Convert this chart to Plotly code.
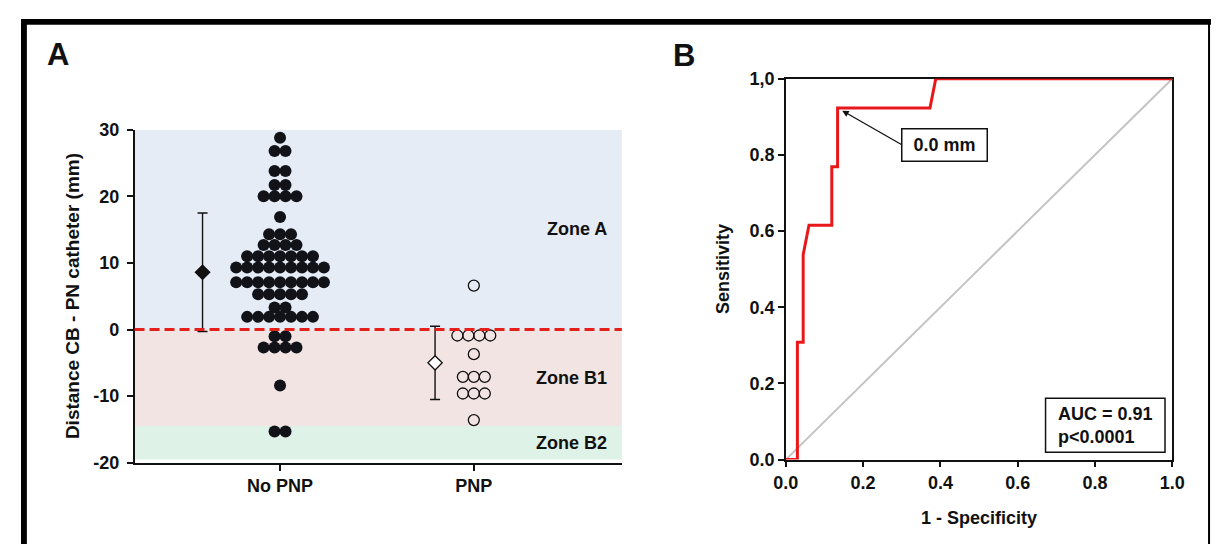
import plotly.graph_objects as go

# page body adds an 8px margin: the figure is sized/positioned in screen pixels minus 8
OFF = 8
W, H = 1224 - OFF, 544 - OFF

# ---------------- data ----------------
groups = ["No PNP", "PNP"]
group_pos = [1, 2]

no_pnp_mm = [28.8,
             26.8, 26.8,
             23.8, 23.8,
             21.7, 21.7,
             20.0, 20.0, 20.0, 20.0,
             16.9,
             14.3, 14.3, 14.3,
             12.7, 12.7, 12.7, 12.7,
             11.0, 11.0, 11.0, 11.0, 11.0, 11.0, 11.0,
             9.3, 9.3, 9.3, 9.3, 9.3, 9.3, 9.3, 9.3, 9.3,
             7.1, 7.1, 7.1, 7.1, 7.1, 7.1, 7.1, 7.1, 7.1,
             5.3, 5.3, 5.3, 5.3, 5.3,
             3.3, 3.3,
             1.9, 1.9, 1.9, 1.9, 1.9, 1.9, 1.9,
             -1.0, -1.0,
             -2.7, -2.7, -2.7, -2.7,
             -8.4,
             -15.3, -15.3]
pnp_mm = [6.6,
          -0.9, -0.9, -0.9, -0.9,
          -3.7,
          -7.1, -7.1, -7.1,
          -9.6, -9.6, -9.6,
          -13.6]
group_mean = [8.6, -5.0]
group_sd = [8.9, 5.5]

zone_names = ["Zone A", "Zone B1", "Zone B2"]
zone_low = [0.0, -14.5, -19.5]
zone_high = [30.0, 0.0, -14.5]
zone_label_y = [15.1, -7.3, -17.1]
cutoff_mm = 0.0

roc_fpr = [0.0, 0.030, 0.030, 0.045, 0.045, 0.060, 0.119, 0.119, 0.134, 0.134, 0.373, 0.388, 1.0]
roc_tpr = [0.0, 0.0, 0.308, 0.308, 0.538, 0.615, 0.615, 0.769, 0.769, 0.923, 0.923, 1.0, 1.0]
cut_point = (0.134, 0.923)
cut_label = "0.0 mm"
auc_lines = ["AUC = 0.91", "p&lt;0.0001"]

ticks_left_y = [-20, -10, 0, 10, 20, 30]
ticks_left_y_text = ["-20", "-10", "0", "10", "20", "30"]
ticks_roc = [0.0, 0.2, 0.4, 0.6, 0.8, 1.0]
ticks_roc_y_text = ["0.0", "0.2", "0.4", "0.6", "0.8", "1,0"]
ticks_roc_x_text = ["0.0", "0.2", "0.4", "0.6", "0.8", "1.0"]

# ---------------- style ----------------
FONT = "Liberation Sans, Arial, sans-serif"
DOT_STEP = 0.0566
SUMMARY_OFFSET = [-0.40, -0.20]
zone_colors = ["#E6ECF6", "#F3E4E4", "#DFF2E7"]


def px_x(p):
    return (p - OFF) / W


def px_y(p):
    return 1 - (p - OFF) / H


def swarm(values, center, step):
    xs, ys = [], []
    counts = {}
    order = []
    for v in values:
        if v not in counts:
            counts[v] = 0
            order.append(v)
        counts[v] += 1
    for v in order:
        n = counts[v]
        for i in range(n):
            xs.append(center + (i - (n - 1) / 2) * step)
            ys.append(v)
    return xs, ys


fig = go.Figure()

# zones (left panel)
for lo, hi, c in zip(zone_low, zone_high, zone_colors):
    fig.add_shape(type="rect", xref="x domain", yref="y", x0=0, x1=1, y0=lo, y1=hi,
                  fillcolor=c, line_width=0, layer="below")

# cutoff dashed line
fig.add_shape(type="line", xref="x domain", yref="y", x0=0, x1=1, y0=cutoff_mm, y1=cutoff_mm,
              line=dict(color="#E3201C", width=3, dash="10px,5px"), layer="above")

xa, ya = swarm(no_pnp_mm, group_pos[0], DOT_STEP)
fig.add_trace(go.Scatter(x=xa, y=ya, mode="markers", xaxis="x", yaxis="y",
                         marker=dict(size=12, color="#111318", line=dict(width=0)),
                         showlegend=False, hoverinfo="skip"))
xb, yb = swarm(pnp_mm, group_pos[1], DOT_STEP)
fig.add_trace(go.Scatter(x=xb, y=yb, mode="markers", xaxis="x", yaxis="y",
                         marker=dict(size=11, symbol="circle", color="rgba(0,0,0,0)",
                                     line=dict(width=1.3, color="#111")),
                         showlegend=False, hoverinfo="skip"))

# mean +/- SD
fig.add_trace(go.Scatter(x=[g + o for g, o in zip(group_pos, SUMMARY_OFFSET)], y=group_mean,
                         mode="markers", xaxis="x", yaxis="y",
                         error_y=dict(type="data", array=group_sd, color="#111", thickness=1.4, width=5),
                         marker=dict(symbol="diamond", size=11, color=["#111", "white"],
                                     line=dict(width=1.3, color="#111")),
                         showlegend=False, hoverinfo="skip"))

for name, yv in zip(zone_names, zone_label_y):
    fig.add_annotation(x=2.698, y=yv, xref="x", yref="y", text=name, showarrow=False,
                       xanchor="right", yanchor="middle",
                       font=dict(family=FONT, size=18, color="#111", weight="bold"))

# ROC panel
fig.add_trace(go.Scatter(x=[0, 1], y=[0, 1], mode="lines", xaxis="x2", yaxis="y2",
                         line=dict(color="#C4C4C4", width=2), showlegend=False, hoverinfo="skip"))
fig.add_trace(go.Scatter(x=roc_fpr, y=roc_tpr, mode="lines", xaxis="x2", yaxis="y2",
                         line=dict(color="#E8181A", width=3), showlegend=False, hoverinfo="skip"))

fig.add_annotation(x=cut_point[0] + 0.012, y=cut_point[1] - 0.007, xref="x2", yref="y2",
                   ax=0.299, ay=0.827, axref="x2", ayref="y2",
                   text=cut_label, showarrow=True, arrowhead=2, arrowsize=1, arrowwidth=1.3,
                   arrowcolor="#111", xanchor="left", yanchor="middle",
                   width=84, height=31, borderpad=0, bordercolor="#111", borderwidth=1.5,
                   bgcolor="white",
                   font=dict(family=FONT, size=18, color="#111", weight="bold"))

fig.add_shape(type="rect", xref="x2", yref="y2", x0=0.672, x1=0.981, y0=0.0195, y1=0.161,
              line=dict(color="#111", width=1.5), fillcolor="white")
fig.add_annotation(x=0.699, y=0.0903, xref="x2", yref="y2", text="<br>".join(auc_lines),
                   showarrow=False, xanchor="left", yanchor="middle", align="left",
                   font=dict(family=FONT, size=18, color="#111", weight="bold"))

# panel letters & axis titles
fig.add_annotation(x=px_x(46), y=px_y(46), xref="paper", yref="paper", text="A", showarrow=False,
                   xanchor="center", yanchor="middle",
                   font=dict(family=FONT, size=31, color="#111", weight="bold"))
fig.add_annotation(x=px_x(685), y=px_y(47), xref="paper", yref="paper", text="B", showarrow=False,
                   xanchor="center", yanchor="middle",
                   font=dict(family=FONT, size=31, color="#111", weight="bold"))
fig.add_annotation(x=px_x(60), y=px_y(297), xref="paper", yref="paper",
                   text="Distance CB - PN catheter (mm)", textangle=-90, showarrow=False,
                   xanchor="center", yanchor="middle",
                   font=dict(family=FONT, size=19, color="#111", weight="bold"))
fig.add_annotation(x=px_x(726), y=px_y(269), xref="paper", yref="paper",
                   text="Sensitivity", textangle=-90, showarrow=False,
                   xanchor="center", yanchor="middle",
                   font=dict(family=FONT, size=18, color="#111", weight="bold"))
fig.add_annotation(x=px_x(987), y=px_y(527), xref="paper", yref="paper",
                   text="1 - Specificity", showarrow=False,
                   xanchor="center", yanchor="middle",
                   font=dict(family=FONT, size=18, color="#111", weight="bold"))

# outer frame
fig.add_shape(type="rect", xref="paper", yref="paper", x0=px_x(8), x1=px_x(14), y0=px_y(560), y1=px_y(9),
              fillcolor="black", line_width=0)
fig.add_shape(type="rect", xref="paper", yref="paper", x0=px_x(8), x1=px_x(1224), y0=px_y(15), y1=px_y(9),
              fillcolor="black", line_width=0)
fig.add_shape(type="line", xref="paper", yref="paper", x0=px_x(1222), x1=px_x(1222), y0=px_y(560), y1=px_y(9),
              line=dict(color="black", width=2))

tickfont = dict(family=FONT, size=18, color="#111", weight="bold")
common = dict(showgrid=False, zeroline=False, showline=True, linecolor="#111", linewidth=1.5,
              ticks="outside", ticklen=6, tickwidth=1.5, tickcolor="#111", tickfont=tickfont)

fig.update_layout(
    width=W, height=H, margin=dict(l=0, r=0, t=0, b=0),
    paper_bgcolor="white", plot_bgcolor="rgba(0,0,0,0)",
    xaxis=dict(domain=[px_x(124), px_x(622)], range=[0.249, 2.764], tickvals=group_pos,
               ticktext=groups, anchor="y", **common),
    yaxis=dict(domain=[px_y(470), px_y(124)], range=[-20, 30], tickvals=ticks_left_y,
               ticktext=ticks_left_y_text, anchor="x", ticklabelstandoff=4, **common),
    xaxis2=dict(domain=[px_x(789.5), px_x(1184.5)], range=[0, 1], tickvals=ticks_roc,
                ticktext=ticks_roc_x_text, anchor="y2", mirror=True, layer="below traces", **common),
    yaxis2=dict(domain=[px_y(466.7), px_y(71)], range=[0, 1], tickvals=ticks_roc,
                ticktext=ticks_roc_y_text, anchor="x2", mirror=True, layer="below traces", **common),
)

fig.write_html("out.html")
